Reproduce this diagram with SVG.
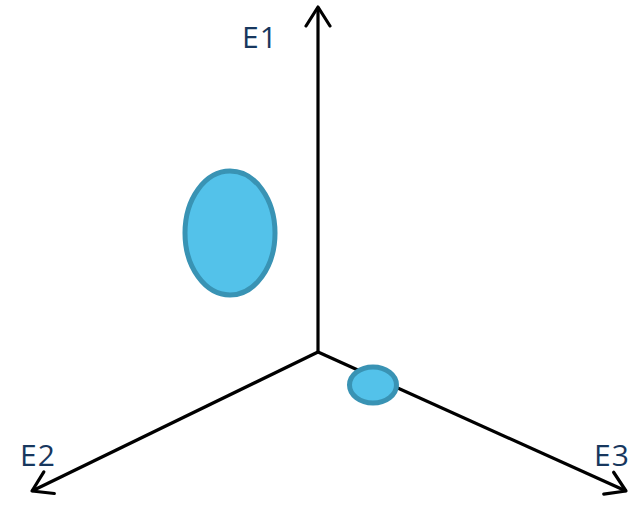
<svg xmlns="http://www.w3.org/2000/svg" width="636" height="522" viewBox="0 0 636 522">
<defs>
<style>
.axis{stroke:#000;stroke-width:3.2;fill:none}
.head{stroke:#000;stroke-width:3.2;fill:none;stroke-linecap:round;stroke-linejoin:round}
.lbl{font-family:"Open Sans","Liberation Sans",sans-serif;font-size:30px;letter-spacing:1px;fill:#17375e}
.blob{fill:#53c2ea;stroke:#3993b4;stroke-width:5}
</style>
<marker id="arr" viewBox="0 0 24 28" refX="22" refY="14" markerWidth="24" markerHeight="28" markerUnits="userSpaceOnUse" orient="auto">
<path d="M3,2 L22,14 L3,26" class="head"/>
</marker>
</defs>
<g id="connectors">
<line class="axis" x1="318" y1="352" x2="318" y2="7" marker-end="url(#arr)"/>
<line class="axis" x1="318" y1="352" x2="32" y2="491" marker-end="url(#arr)"/>
<line class="axis" x1="318" y1="352" x2="626" y2="491" marker-end="url(#arr)"/>
</g>
<g id="node-large"><ellipse class="blob" cx="230" cy="233" rx="45" ry="62"/></g>
<g id="node-small"><ellipse class="blob" cx="373" cy="385" rx="23.5" ry="18" stroke-width="4"/></g>
<g id="label-E1"><text class="lbl" x="242" y="48">E1</text></g>
<g id="label-E2"><text class="lbl" x="20" y="466">E2</text></g>
<g id="label-E3"><text class="lbl" x="594" y="466">E3</text></g>
</svg>
